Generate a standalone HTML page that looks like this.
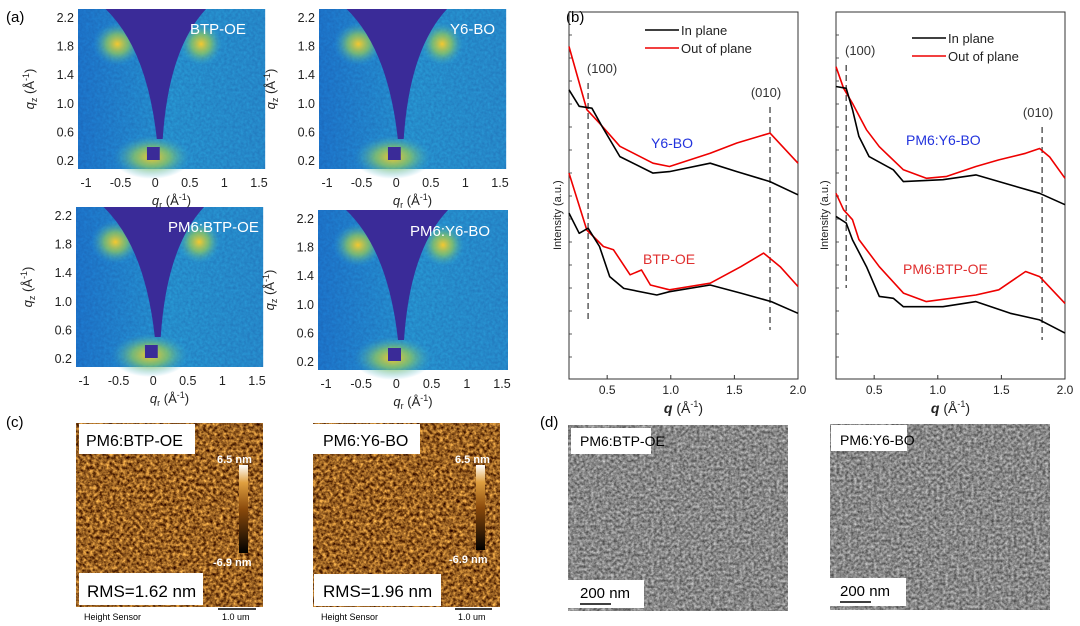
<!DOCTYPE html>
<html><head><meta charset="utf-8"><style>
body{margin:0;width:1080px;height:626px;background:#fff;overflow:hidden;font-family:"Liberation Sans",Arial,sans-serif}
svg{position:absolute;left:0;top:0}
</style></head><body>
<svg id="fig" width="1080" height="626" viewBox="0 0 1080 626" font-family="Liberation Sans, Arial, sans-serif">
<defs>
<filter id="noise" x="0" y="0" width="100%" height="100%" color-interpolation-filters="sRGB"><feTurbulence type="fractalNoise" baseFrequency="0.35" numOctaves="2" seed="3"/><feColorMatrix type="matrix" values="0 0 0 0 0.1  0 0 0 0 0.3  0 0 0 0 0.6  0 0 0 0.5 0"/><feComposite in2="SourceGraphic" operator="in"/></filter>
<filter id="afmn" x="0" y="0" width="100%" height="100%" color-interpolation-filters="sRGB"><feTurbulence type="fractalNoise" baseFrequency="0.3" numOctaves="3" seed="7"/><feColorMatrix type="matrix" values="1.3 0 0 0 -0.05  1.1 0 0 0 -0.17  0.55 0 0 0 -0.14  0 0 0 0 1"/></filter>
<filter id="temn" x="0" y="0" width="100%" height="100%" color-interpolation-filters="sRGB"><feTurbulence type="fractalNoise" baseFrequency="0.35" numOctaves="3" seed="11"/><feColorMatrix type="matrix" values="0.7 0 0 0 0.18  0.7 0 0 0 0.18  0.7 0 0 0 0.18  0 0 0 0 1"/></filter>
<radialGradient id="hot" cx="0.5" cy="0.5" r="0.5"><stop offset="0" stop-color="#f5c830"/><stop offset="0.45" stop-color="#8ec860" stop-opacity="0.75"/><stop offset="1" stop-color="#2aa6d8" stop-opacity="0"/></radialGradient>
<linearGradient id="bg" x1="0" y1="0" x2="1" y2="0"><stop offset="0" stop-color="#1e7ed6"/><stop offset="0.5" stop-color="#2aa3dc"/><stop offset="1" stop-color="#2a9ad8"/></linearGradient>
<linearGradient id="cbar" x1="0" y1="1" x2="0" y2="0"><stop offset="0" stop-color="#000"/><stop offset="0.5" stop-color="#8a4a0c"/><stop offset="0.8" stop-color="#e0a040"/><stop offset="1" stop-color="#fff"/></linearGradient>
<g id="gmap">
<rect x="0" y="0" width="190" height="160" fill="url(#bg)"/>
<rect x="0" y="0" width="190" height="160" fill="#fff" filter="url(#noise)"/>
<ellipse cx="40" cy="35" rx="25" ry="22" fill="url(#hot)"/>
<ellipse cx="125" cy="35" rx="22" ry="22" fill="url(#hot)"/>
<ellipse cx="75" cy="148" rx="40" ry="22" fill="url(#hot)"/>
<path d="M28,0 Q70,40 80,130 L86,130 Q92,40 130,0 Z" fill="#3a2b98"/>
<rect x="70" y="138" width="13" height="13" fill="#3a2b98"/>
</g>
</defs>

<!-- Panel a -->
<text x="6" y="22" font-size="15">(a)</text>
<g><use href="#gmap" transform="translate(78,9) scale(0.985,1)"/><text x="190" y="34" font-size="15" fill="#fff">BTP-OE</text></g>
<g><use href="#gmap" transform="translate(319,9) scale(0.985,1)"/><text x="450" y="34" font-size="15" fill="#fff">Y6-BO</text></g>
<g><use href="#gmap" transform="translate(76,207) scale(0.985,1)"/><text x="168" y="232" font-size="15" fill="#fff">PM6:BTP-OE</text></g>
<g><use href="#gmap" transform="translate(318,210) scale(1,1)"/><text x="410" y="236" font-size="15" fill="#fff">PM6:Y6-BO</text></g>
<g id="aaxes" font-size="12.5" fill="#222"></g>

<!-- Panel b -->
<text x="566" y="22" font-size="15">(b)</text>
<g id="plotL"></g><g id="plotR"></g>

<!-- Panel c -->
<text x="6" y="427" font-size="15">(c)</text>
<g>
<rect x="76" y="423" width="187" height="184" filter="url(#afmn)"/>
<rect x="79" y="424" width="116" height="30" fill="#fff"/><text x="86" y="446" font-size="16">PM6:BTP-OE</text>
<rect x="239" y="465" width="9" height="88" fill="url(#cbar)"/>
<text x="217" y="463" font-size="11" fill="#fff" font-weight="bold">6.5 nm</text><text x="213" y="566" font-size="11" fill="#fff" font-weight="bold">-6.9 nm</text>
<rect x="79" y="573" width="124" height="32" fill="#fff"/><text x="87" y="597" font-size="17">RMS=1.62 nm</text>
<text x="84" y="620" font-size="9">Height Sensor</text><line x1="218" y1="609" x2="256" y2="609" stroke="#000" stroke-width="1.5"/><text x="222" y="620" font-size="9">1.0 um</text>
</g>
<g>
<rect x="313" y="423" width="187" height="184" filter="url(#afmn)"/>
<rect x="313" y="424" width="107" height="30" fill="#fff"/><text x="323" y="446" font-size="16">PM6:Y6-BO</text>
<rect x="476" y="465" width="9" height="85" fill="url(#cbar)"/>
<text x="455" y="463" font-size="11" fill="#fff" font-weight="bold">6.5 nm</text><text x="449" y="563" font-size="11" fill="#fff" font-weight="bold">-6.9 nm</text>
<rect x="314" y="574" width="127" height="32" fill="#fff"/><text x="323" y="597" font-size="17">RMS=1.96 nm</text>
<text x="321" y="620" font-size="9">Height Sensor</text><line x1="455" y1="609" x2="492" y2="609" stroke="#000" stroke-width="1.5"/><text x="458" y="620" font-size="9">1.0 um</text>
</g>

<!-- Panel d -->
<text x="540" y="427" font-size="15">(d)</text>
<g>
<rect x="568" y="425" width="220" height="186" filter="url(#temn)"/>
<rect x="571" y="428" width="80" height="26" fill="#fff"/><text x="580" y="446" font-size="14">PM6:BTP-OE</text>
<rect x="568" y="580" width="76" height="28" fill="#fff"/><text x="580" y="598" font-size="15">200 nm</text><line x1="580" y1="604" x2="611" y2="604" stroke="#000" stroke-width="1.5"/>
</g>
<g>
<rect x="830" y="424" width="220" height="186" filter="url(#temn)"/>
<rect x="831" y="425" width="76" height="26" fill="#fff"/><text x="840" y="445" font-size="14">PM6:Y6-BO</text>
<rect x="830" y="578" width="76" height="28" fill="#fff"/><text x="840" y="596" font-size="15">200 nm</text><line x1="840" y1="602" x2="871" y2="602" stroke="#000" stroke-width="1.5"/>
</g>
</svg>
<script>
// Panel b data (q in Å^-1, intensity in arbitrary offset units)
const qY6Out=[0.2,0.34,0.44,0.6,0.86,0.99,1.31,1.52,1.78,2.0];
const iY6Out=[90.6,73.4,69.7,63.4,58.8,57.9,61.5,64.3,67,58.8];
const qY6In=[0.2,0.28,0.38,0.46,0.6,0.86,0.99,1.31,1.52,1.78,2.0];
const iY6In=[78.8,74.3,73.8,68.8,60.6,56.1,56.5,58.8,56.5,53.8,50.2];
const qBTPOut=[0.2,0.34,0.47,0.55,0.68,0.77,0.84,0.99,1.31,1.55,1.73,1.86,2.0];
const iBTPOut=[56.1,40.6,36.1,35.2,28.4,29.7,25.6,24.3,26.1,30.6,34.3,30.6,25.2];
const qBTPIn=[0.2,0.28,0.35,0.44,0.52,0.63,0.89,0.99,1.31,1.55,1.79,2.0];
const iBTPIn=[45.2,39.7,41.1,36.1,27.9,24.7,22.9,23.8,25.6,23.4,21.1,17.9];
const qPY6Out=[0.2,0.26,0.33,0.44,0.54,0.73,0.91,1.07,1.3,1.48,1.69,1.8,1.88,2.0];
const iPY6Out=[85.1,79.2,75.1,67.9,63.3,57,54.7,55.2,57.9,59.7,61.5,62.8,60.5,54.7];
const qPY6In=[0.2,0.28,0.33,0.38,0.46,0.65,0.73,1.04,1.3,1.57,1.8,2.0];
const iPY6In=[79.7,79.2,73.4,66.1,60.6,57,53.8,54.3,55.6,52.9,50.6,47.5];
const qPBTPOut=[0.2,0.26,0.33,0.38,0.54,0.73,0.91,1.3,1.48,1.69,1.8,2.0];
const iPBTPOut=[50.6,46.1,43.4,38,30.6,23.4,21.1,22.9,24.3,29.3,27.9,20.6];
const qPBTPIn=[0.2,0.28,0.33,0.44,0.54,0.65,0.73,1.04,1.3,1.57,1.8,2.0];
const iPBTPIn=[44.3,42.5,37.9,30.6,22.5,22,19.7,19.7,21.1,17.9,16.1,12.5];
const xTicks=[0.5,1.0,1.5,2.0];
const peakL=[0.35,1.78];
const peakR=[0.28,1.82];
const giwaxsXTicks=[-1,-0.5,0,0.5,1,1.5];
const giwaxsYTicks=[0.2,0.6,1.0,1.4,1.8,2.2];

const NS='http://www.w3.org/2000/svg';
function mk(parent,tag,attrs,text){const e=document.createElementNS(NS,tag);for(const k in attrs)e.setAttribute(k,attrs[k]);if(text!==undefined)e.textContent=text;parent.appendChild(e);return e;}

function drawPlot(gid,x0,x1,series,labels,peaks,dashY,showYLabel,legY){
  const g=document.getElementById(gid);
  
  
  const top=12,bot=379;
  const sx=q=>x0+(q-0.2)/1.8*(x1-x0);
  const sy=v=>bot-v/100*(bot-top);
  const fr=mk(g,'rect',{x:x0,y:top,width:x1-x0,height:bot-top,fill:'none',stroke:'#333','stroke-width':1});
  
  
  for(let k=1;k<16;k++){mk(g,'line',{x1:x0,x2:x0+3,y1:top+k*23,y2:top+k*23,stroke:'#333','stroke-width':0.8});}
  xTicks.forEach(t=>{
    mk(g,'line',{x1:sx(t),x2:sx(t),y1:bot,y2:bot-4,stroke:'#333'});
    const tl=mk(g,'text',{x:sx(t),y:bot+15,'font-size':12,'text-anchor':'middle',fill:'#222'},t.toFixed(1));
    
    
  });
  const xt=mk(g,'text',{x:(x0+x1)/2,y:bot+34,'font-size':14,'text-anchor':'middle',fill:'#222'});
  
  
  mk(xt,'tspan',{'font-style':'italic','font-weight':'bold'},'q');mk(xt,'tspan',{},' (Å');mk(xt,'tspan',{'font-size':9,dy:-6},'-1');mk(xt,'tspan',{dy:6},')');
  peaks.forEach((p,i)=>{
    const d=mk(g,'line',{x1:sx(p),x2:sx(p),y1:dashY[i][0],y2:dashY[i][1],stroke:'#333','stroke-dasharray':'6,4','stroke-width':1.2});
    
    
    const t=mk(g,'text',{x:sx(p)+(i===0?14:-4),y:dashY[i][0]-10,'font-size':13,'text-anchor':'middle',fill:'#333'},i===0?'(100)':'(010)');
    
    
  });
  series.forEach(s=>{
    const d=s.q.map((q,i)=>(i?'L':'M')+sx(q).toFixed(1)+','+sy(s.v[i]).toFixed(1)).join(' ');
    const p=mk(g,'path',{d:d,fill:'none',stroke:s.c,'stroke-width':1.6,'stroke-linejoin':'round'});
    
    
  });
  labels.forEach(l=>{
    const t=mk(g,'text',{x:l.x,y:l.y,'font-size':14,fill:l.c},l.t);
    
    
  });
  const lx=x1-153;
  [['In plane','#000',legY],['Out of plane','#e00',legY+18]].forEach(e=>{
    mk(g,'line',{x1:lx,x2:lx+34,y1:e[2]-5,y2:e[2]-5,stroke:e[1],'stroke-width':1.6});
    const t=mk(g,'text',{x:lx+36,y:e[2],'font-size':13,fill:'#222'},e[0]);
    
    
  });
  if(showYLabel){
    const t=mk(g,'text',{x:0,y:0,'font-size':11,fill:'#222',transform:`translate(${x0-8},250) rotate(-90)`},'Intensity (a.u.)');
    
    
  }
}
drawPlot('plotL',569,798,[
 {q:qY6Out,v:iY6Out,c:'#e00',n:'y6-bo-out-of-plane'},{q:qY6In,v:iY6In,c:'#000',n:'y6-bo-in-plane'},
 {q:qBTPOut,v:iBTPOut,c:'#e00',n:'btp-oe-out-of-plane'},{q:qBTPIn,v:iBTPIn,c:'#000',n:'btp-oe-in-plane'}],
 [{x:651,y:148,t:'Y6-BO',c:'#2233dd'},{x:643,y:264,t:'BTP-OE',c:'#e03030'}],
 peakL,[[83,320],[107,330]],true,35);
drawPlot('plotR',836,1065,[
 {q:qPY6Out,v:iPY6Out,c:'#e00',n:'pm6-y6-bo-out-of-plane'},{q:qPY6In,v:iPY6In,c:'#000',n:'pm6-y6-bo-in-plane'},
 {q:qPBTPOut,v:iPBTPOut,c:'#e00',n:'pm6-btp-oe-out-of-plane'},{q:qPBTPIn,v:iPBTPIn,c:'#000',n:'pm6-btp-oe-in-plane'}],
 [{x:906,y:145,t:'PM6:Y6-BO',c:'#2233dd'},{x:903,y:274,t:'PM6:BTP-OE',c:'#e03030'}],
 peakR,[[65,288],[127,340]],true,43);

// GIWAXS axes
const ag=document.getElementById('aaxes');


[[78,9,187],[319,9,187],[76,207,187],[318,210,190]].forEach(m=>{
  const [mx,my,w]=m;
  const sx=v=>mx+8+(v+1)/2.5*(w-14);
  const sy=v=>my+152-(v-0.2)/2.0*143;
  giwaxsXTicks.forEach(t=>{const e=mk(ag,'text',{x:sx(t),y:my+178,'text-anchor':'middle','font-size':12.5},String(t));
    
    });
  giwaxsYTicks.forEach(t=>{const e=mk(ag,'text',{x:mx-4,y:sy(t)+4,'text-anchor':'end','font-size':12.5},t.toFixed(1));
    
    });
  const xt=mk(ag,'text',{x:mx+w/2,y:my+196,'text-anchor':'middle','font-size':13});
  
  
  mk(xt,'tspan',{'font-style':'italic'},'q');mk(xt,'tspan',{'font-size':9,dy:3},'r');mk(xt,'tspan',{dy:-3},' (Å');mk(xt,'tspan',{'font-size':9,dy:-5},'-1');mk(xt,'tspan',{dy:5},')');
  const yt=mk(ag,'text',{x:0,y:0,'text-anchor':'middle','font-size':13,transform:`translate(${mx-44},${my+80}) rotate(-90)`});
  
  
  mk(yt,'tspan',{'font-style':'italic'},'q');mk(yt,'tspan',{'font-size':9,dy:3},'z');mk(yt,'tspan',{dy:-3},' (Å');mk(yt,'tspan',{'font-size':9,dy:-5},'-1');mk(yt,'tspan',{dy:5},')');
});
</script>
</body></html>
